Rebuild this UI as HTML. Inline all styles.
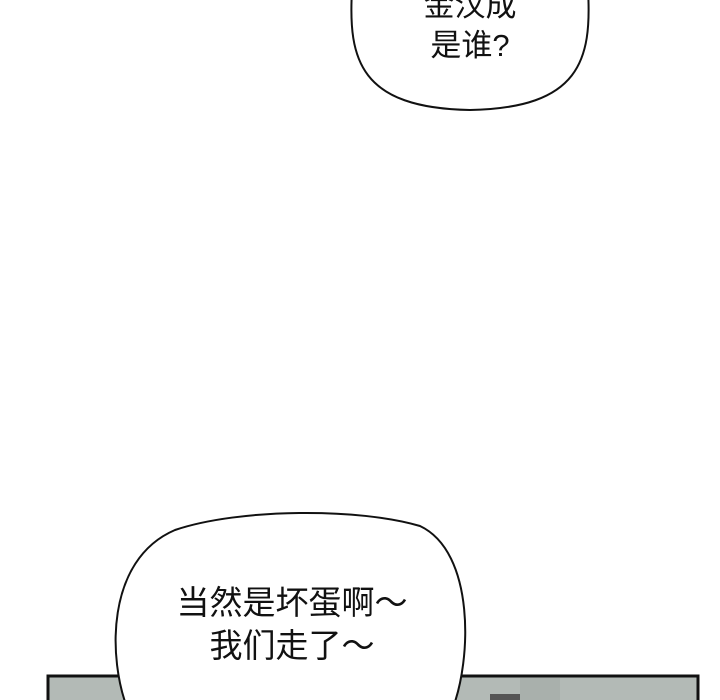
<!DOCTYPE html>
<html><head><meta charset="utf-8"><style>
html,body{margin:0;padding:0;background:#fff;width:720px;height:700px;overflow:hidden}
svg{display:block}
text{font-family:"Liberation Sans","Noto Sans CJK SC",sans-serif;fill:#111}
</style></head><body>
<svg width="720" height="700" viewBox="0 0 720 700">
<rect x="48" y="676" width="650" height="30" fill="#b3bab6" stroke="#111" stroke-width="3"/>
<rect x="360" y="678" width="60" height="22" fill="#c9ceca"/>
<rect x="520" y="678" width="40" height="22" fill="#a9b0ac"/>
<rect x="490" y="694" width="30" height="8" fill="#555"/>
<path d="M352,-10 C348,60 360,108 470,110 C580,108 592,60 588,-10 Z" fill="#fff" stroke="#111" stroke-width="2"/>
<path d="M128,710 C108,660 105,560 175,530 C240,508 360,508 420,526 C475,552 472,660 452,710 Z" fill="#fff" stroke="#111" stroke-width="2"/>
<text x="470" y="16" font-size="31" text-anchor="middle">金汉成</text>
<text x="470" y="56" font-size="31" text-anchor="middle">是谁?</text>
<text x="292" y="614" font-size="33" text-anchor="middle">当然是坏蛋啊～</text>
<text x="292" y="657" font-size="33" text-anchor="middle">我们走了～</text>
</svg>
</body></html>
